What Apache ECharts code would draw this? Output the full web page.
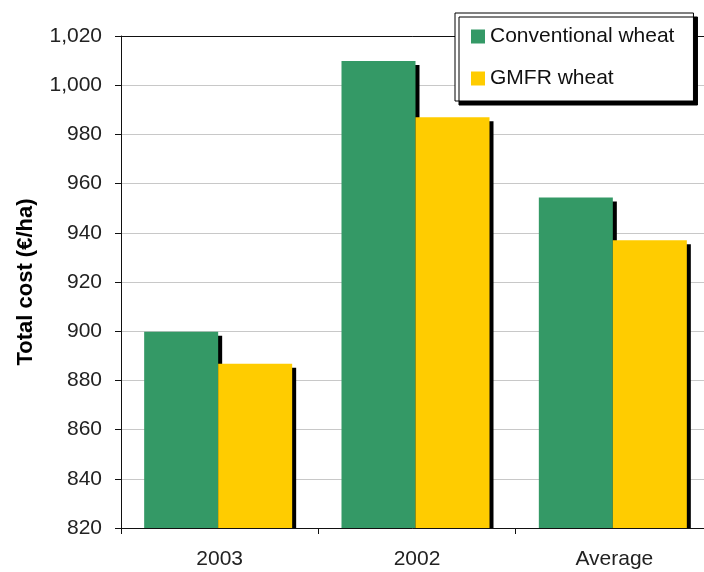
<!DOCTYPE html>
<html>
<head>
<meta charset="utf-8">
<script src="https://cdn.jsdelivr.net/npm/echarts@6/dist/echarts.min.js"></script>
<style>
  html, body { margin: 0; padding: 0; background: #fff; overflow: hidden; }
  #chart { width: 704px; height: 572px; }
</style>
</head>
<body>
<div id="chart"></div>
<script>
// Total cost per hectare, conventional vs GMFR wheat
const categories = ['2003', '2002', 'Average'];
const conventional = [899.8, 1009.8, 954.3];
const gmfr = [886.8, 987.0, 937.0];
const seriesNames = ['Conventional wheat', 'GMFR wheat'];
const yMin = 820, yMax = 1020, yStep = 20;

const FONT = '"Liberation Sans", Arial, sans-serif';
const BAR_W = 74;      // width of each bar in px
const SHADOW = 4;      // drop-shadow offset in px
const PAIR_SHIFT = -1.5; // bar pair sits slightly left of the category centre

const chart = echarts.init(document.getElementById('chart'), null, { renderer: 'canvas' });

// Bar with a hard drop shadow that stops at the category axis.
// side = -1 puts the bar left of the category centre, +1 to the right.
function shadowedBar(side, color) {
  return function (params, api) {
    const cat = api.value(0);
    const val = api.value(1);
    const top = api.coord([cat, val]);
    const base = api.coord([cat, yMin]);
    const mid = top[0] + PAIR_SHIFT;
    const x = side < 0 ? mid - BAR_W : mid;
    const h = base[1] - top[1];
    return {
      type: 'group',
      children: [
        { type: 'rect', shape: { x: x + SHADOW, y: top[1] + SHADOW, width: BAR_W, height: h - SHADOW },
          style: { fill: '#000' } },
        { type: 'rect', shape: { x: x, y: top[1], width: BAR_W, height: h },
          style: { fill: color } }
      ]
    };
  };
}

const toPairs = arr => arr.map((v, i) => [i, v]);

chart.setOption({
  animation: false,
  backgroundColor: '#fff',
  textStyle: { fontFamily: FONT },
  grid: {
    left: 121, top: 36, width: 592, bottom: 44,
    containLabel: false,
    outerBoundsMode: 'none'   // the plot runs past the right edge of the canvas
  },
  legend: {
    left: 455,
    top: 13,
    orient: 'vertical',
    data: seriesNames,
    icon: 'rect',
    itemWidth: 14,
    itemHeight: 14,
    itemGap: 21,
    padding: [13, 19, 12, 16],
    backgroundColor: '#fff',
    borderColor: '#000',
    borderWidth: 1,
    shadowColor: '#000',
    shadowBlur: 0,
    shadowOffsetX: 4,
    shadowOffsetY: 4,
    textStyle: { fontFamily: FONT, fontSize: 21, color: '#111', padding: [0, 0, 0, 0] }
  },
  xAxis: [{
    type: 'category',
    data: categories,
    position: 'bottom',
    axisLine: { lineStyle: { color: '#111', width: 1 } },
    axisTick: { show: true, length: 6, lineStyle: { color: '#111' } },
    axisLabel: { fontFamily: FONT, fontSize: 21, color: '#222', margin: 21 }
  }, {
    type: 'category',
    data: categories,
    position: 'top',
    axisLine: { lineStyle: { color: '#111', width: 1 } },
    axisTick: { show: false },
    axisLabel: { show: false }
  }],
  yAxis: {
    type: 'value',
    min: yMin,
    max: yMax,
    interval: yStep,
    name: 'Total cost (€/ha)',
    nameLocation: 'middle',
    nameGap: 84,
    nameTextStyle: { fontFamily: FONT, fontSize: 22, fontWeight: 'bold', color: '#000' },
    axisLine: { show: true, lineStyle: { color: '#111', width: 1 } },
    axisTick: { show: true, length: 6, lineStyle: { color: '#111' } },
    splitLine: { lineStyle: { color: '#c8c8c8', width: 1 } },
    axisLabel: {
      fontFamily: FONT, fontSize: 21, color: '#222', margin: 19,
      formatter: v => v.toLocaleString('en-US')
    }
  },
  series: [{
    name: seriesNames[0],
    type: 'custom',
    data: toPairs(conventional),
    encode: { x: 0, y: 1 },
    itemStyle: { color: '#349966' },
    renderItem: shadowedBar(-1, '#349966')
  }, {
    name: seriesNames[1],
    type: 'custom',
    data: toPairs(gmfr),
    encode: { x: 0, y: 1 },
    itemStyle: { color: '#ffcc00' },
    renderItem: shadowedBar(1, '#ffcc00')
  }]
});
</script>
</body>
</html>
